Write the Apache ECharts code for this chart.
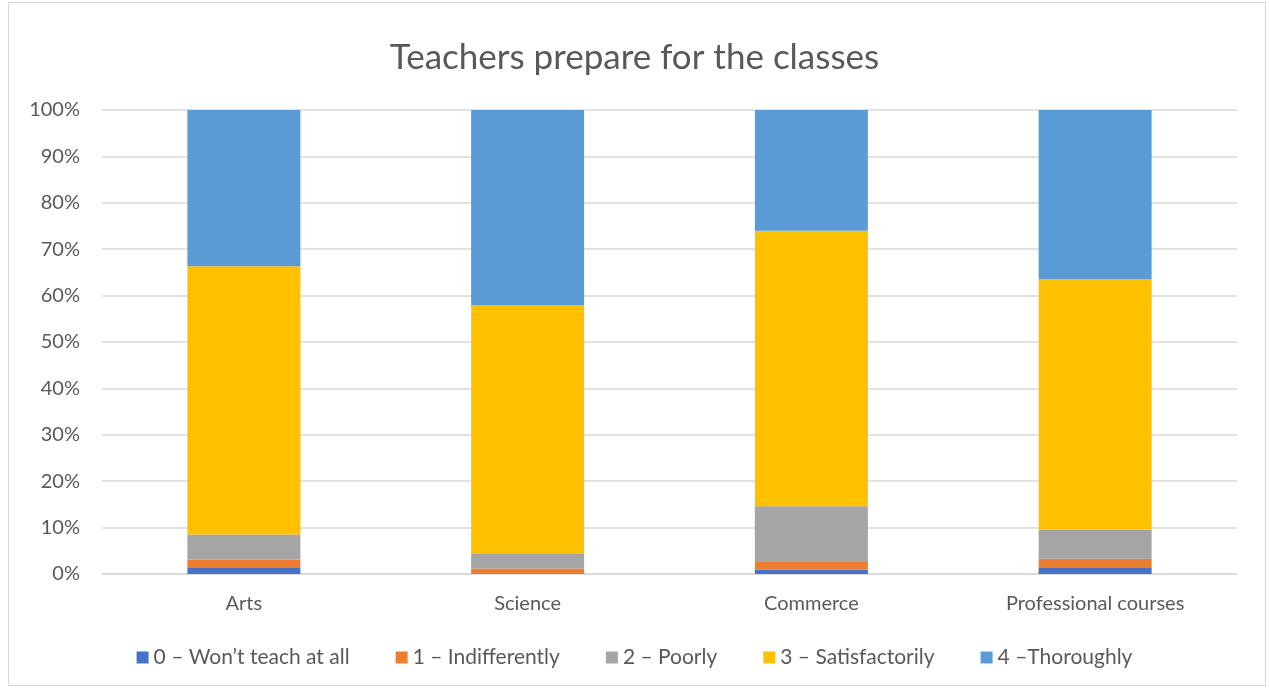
<!DOCTYPE html>
<html>
<head>
<meta charset="utf-8">
<script src="https://cdn.jsdelivr.net/npm/echarts@6/dist/echarts.min.js"></script>
<style>
  html, body { margin: 0; padding: 0; background: #fff; }
  #frame { position: absolute; left: 8px; top: 2px; width: 1258px; height: 684px; border: 1px solid #d9d9d9; box-sizing: border-box; }
  #chart { position: absolute; left: 0; top: 0; width: 1269px; height: 689px; }
</style>
</head>
<body>
<div id="frame"></div>
<div id="chart"></div>
<script>
const categories = ["Arts", "Science", "Commerce", "Professional courses"];
const seriesNames = ["0 – Won’t teach at all", "1 – Indifferently", "2 – Poorly", "3 – Satisfactorily", "4 –Thoroughly"];
const wontTeach = [1.3, 0, 0.9, 1.3];
const indifferently = [1.8, 1.2, 1.7, 2.0];
const poorly = [5.4, 3.1, 12.0, 6.3];
const satisfactorily = [57.8, 53.7, 59.4, 53.9];
const thoroughly = [33.7, 42.0, 26.0, 36.5];
const yTicks = [0, 10, 20, 30, 40, 50, 60, 70, 80, 90, 100];

const colors = ["#4472C4", "#ED7D31", "#A5A5A5", "#FFC000", "#5B9BD5"];
const values = [wontTeach, indifferently, poorly, satisfactorily, thoroughly];
const font = "Lato, 'Open Sans', sans-serif";

const chart = echarts.init(document.getElementById("chart"));

chart.setOption({
  backgroundColor: "transparent",
  animation: false,
  color: colors,
  title: {
    text: "Teachers prepare for the classes",
    left: "center",
    top: 35,
    textStyle: { color: "#595959", fontSize: 35, fontWeight: "normal", fontFamily: font },
  },
  legend: {
    bottom: 16,
    left: "center",
    itemWidth: 12,
    itemHeight: 12,
    itemGap: 46,
    icon: "rect",
    textStyle: { color: "#595959", fontSize: 21, fontFamily: font },
    data: seriesNames,
  },
  grid: {
    left: 102,
    right: 32,
    top: 110,
    bottom: 115,
  },
  xAxis: {
    type: "category",
    data: categories,
    axisTick: { show: false },
    axisLine: { lineStyle: { color: "#d9d9d9", width: 1.5 } },
    axisLabel: { color: "#595959", fontSize: 20, fontFamily: font, margin: 20 },
  },
  yAxis: {
    type: "value",
    min: yTicks[0],
    max: yTicks[yTicks.length - 1],
    interval: 10,
    axisLine: { show: false },
    axisTick: { show: false },
    axisLabel: { color: "#595959", fontSize: 20, fontFamily: font, margin: 22, formatter: (v) => v + "%" },
    splitLine: { lineStyle: { color: "#d9d9d9", width: 1.5 } },
  },
  series: seriesNames.map((name, i) => ({
    name: name,
    type: "bar",
    stack: "total",
    barWidth: 113,
    data: values[i],
  })),
});
</script>
</body>
</html>
